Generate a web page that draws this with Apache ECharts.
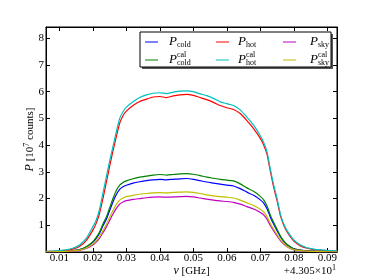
<!DOCTYPE html>
<html><head><meta charset="utf-8">
<script src="https://cdn.jsdelivr.net/npm/echarts@6/dist/echarts.min.js"></script>
<style>html,body{margin:0;padding:0;background:#fff}#c{width:374px;height:280px}</style>
</head><body><div id="c"></div><script>
// frequency offset (GHz, + 43.05)
const nu = [0.006,0.008,0.010,0.012,0.014,0.016,0.018,0.020,0.021,0.022,0.023,0.024,0.025,0.026,0.027,0.028,0.029,0.030,0.032,0.034,0.036,0.038,0.040,0.042,0.044,0.046,0.048,0.050,0.052,0.054,0.056,0.058,0.060,0.062,0.064,0.066,0.068,0.070,0.071,0.072,0.073,0.074,0.075,0.076,0.077,0.078,0.080,0.082,0.084,0.086,0.088,0.090,0.093];
const pCold = [0.01,0.01,0.02,0.03,0.05,0.09,0.19,0.36,0.51,0.70,0.98,1.22,1.55,1.87,2.15,2.34,2.44,2.50,2.58,2.63,2.67,2.70,2.72,2.70,2.72,2.74,2.75,2.72,2.67,2.62,2.58,2.54,2.50,2.47,2.37,2.24,2.12,1.95,1.83,1.62,1.30,1.04,0.80,0.57,0.40,0.27,0.12,0.07,0.04,0.03,0.02,0.02,0.01];
const pColdCal = [0.01,0.01,0.02,0.03,0.05,0.09,0.20,0.39,0.55,0.75,1.05,1.30,1.65,2.00,2.30,2.50,2.60,2.66,2.74,2.80,2.84,2.88,2.90,2.88,2.90,2.92,2.93,2.91,2.86,2.80,2.76,2.72,2.69,2.66,2.55,2.40,2.27,2.08,1.95,1.72,1.38,1.10,0.85,0.60,0.42,0.28,0.12,0.07,0.04,0.03,0.02,0.02,0.01];
const pHot = [0.02,0.02,0.04,0.06,0.11,0.21,0.43,0.82,1.08,1.45,2.00,2.60,3.20,3.78,4.32,4.82,5.10,5.27,5.48,5.63,5.72,5.80,5.82,5.78,5.84,5.88,5.90,5.86,5.78,5.70,5.60,5.48,5.40,5.33,5.18,4.92,4.62,4.25,4.00,3.65,3.02,2.42,1.92,1.36,1.00,0.75,0.41,0.23,0.14,0.09,0.07,0.05,0.03];
const pHotCal = [0.02,0.03,0.05,0.08,0.14,0.26,0.51,0.95,1.20,1.60,2.20,2.80,3.40,3.94,4.50,5.00,5.25,5.42,5.62,5.78,5.88,5.94,5.96,5.93,5.98,6.02,6.03,6.00,5.92,5.85,5.75,5.62,5.55,5.48,5.32,5.05,4.75,4.35,4.10,3.75,3.10,2.50,2.00,1.42,1.05,0.80,0.45,0.26,0.16,0.11,0.08,0.06,0.04];
const pSky = [0.01,0.01,0.01,0.02,0.035,0.06,0.13,0.26,0.37,0.52,0.72,0.93,1.18,1.42,1.63,1.79,1.87,1.92,1.97,2.00,2.03,2.05,2.06,2.05,2.06,2.07,2.08,2.06,2.02,1.98,1.94,1.91,1.89,1.86,1.79,1.70,1.61,1.48,1.39,1.23,0.99,0.79,0.60,0.43,0.30,0.20,0.08,0.05,0.03,0.02,0.015,0.01,0.01];
const pSkyCal = [0.01,0.01,0.015,0.02,0.04,0.07,0.15,0.30,0.42,0.58,0.80,1.02,1.30,1.55,1.78,1.94,2.02,2.07,2.12,2.16,2.19,2.21,2.22,2.21,2.23,2.24,2.25,2.23,2.19,2.14,2.10,2.07,2.05,2.02,1.94,1.84,1.74,1.60,1.50,1.33,1.07,0.85,0.65,0.46,0.32,0.21,0.09,0.05,0.03,0.02,0.015,0.01,0.01];
const xTicks = [0.01,0.02,0.03,0.04,0.05,0.06,0.07,0.08,0.09];
const yTicks = [1,2,3,4,5,6,7,8];

const FONT = 'Liberation Serif';
const seriesDefs = [
  {name:'P_cold', sub:'cold', sup:'', color:'#0000ff', data:pCold},
  {name:'P_cold^cal', sub:'cold', sup:'cal', color:'#008000', data:pColdCal},
  {name:'P_hot', sub:'hot', sup:'', color:'#ff0000', data:pHot},
  {name:'P_hot^cal', sub:'hot', sup:'cal', color:'#00bfbf', data:pHotCal},
  {name:'P_sky', sub:'sky', sup:'', color:'#bf00bf', data:pSky},
  {name:'P_sky^cal', sub:'sky', sup:'cal', color:'#bfbf00', data:pSkyCal}
];

const chart = echarts.init(document.getElementById('c'), null, {renderer:'canvas'});

const axisCommon = {
  type:'value',
  axisLine:{show:true, onZero:false, lineStyle:{color:'#000', width:1}},
  splitLine:{show:false},
};

// legend drawn as graphic (3 columns x 2 rows)
const lg = [];
const boxL = 140, boxT = 32, boxW = 191, boxH = 35;
lg.push({type:'rect', shape:{x:boxL+2, y:boxT+2, width:boxW, height:boxH}, style:{fill:'#555'}, z:100});
lg.push({type:'rect', shape:{x:boxL, y:boxT, width:boxW, height:boxH}, style:{fill:'#fff', stroke:'#000', lineWidth:1}, z:101});
const colLine = [145, 216, 283];
const colText = [169, 238, 310];
const rowY = [42, 60];
seriesDefs.forEach((s, i) => {
  const col = Math.floor(i/2), row = i%2;
  const y = rowY[row];
  lg.push({type:'line', shape:{x1:colLine[col], y1:y, x2:colLine[col]+13, y2:y}, style:{stroke:s.color, lineWidth:1}, z:102});
  lg.push({type:'text', x:colText[col], y:y, style:{text:'P', font:'italic 13px '+FONT, fill:'#000', textVerticalAlign:'middle'}, z:102});
  lg.push({type:'text', x:colText[col]+8, y:y+3, style:{text:s.sub, font:'8px '+FONT, fill:'#000', textVerticalAlign:'middle'}, z:102});
  if (s.sup) lg.push({type:'text', x:colText[col]+8, y:y-5, style:{text:s.sup, font:'8px '+FONT, fill:'#000', textVerticalAlign:'middle'}, z:102});
});
// offset text
lg.push({type:'text', right:38, top:264, style:{rich:{a:{font:'11px '+FONT, fill:'#000'}, s:{font:'8px '+FONT, fill:'#000', padding:[0,0,7,0]}}, text:'{a|+4.305×10}{s|1}', fill:'#000'}, z:102});

chart.setOption({
  animation:false,
  backgroundColor:'#fff',
  grid:{left:46, right:37, top:27, bottom:28, outerBoundsMode:'none', containLabel:false, show:true, borderColor:'#000', borderWidth:1, backgroundColor:'transparent'},
  xAxis:[
    Object.assign({}, axisCommon, {
      min:0.006, max:0.0929, position:'bottom',
      axisTick:{show:true, inside:true, length:4, customValues:xTicks, lineStyle:{color:'#000'}},
      axisLabel:{show:true, customValues:xTicks, color:'#000', fontFamily:FONT, fontSize:11, margin:1, formatter:v=>v.toFixed(2)},
      name:'{i|ν} [GHz]', nameLocation:'middle', nameGap:13, nameMoveOverlap:false,
      nameTextStyle:{color:'#000', fontFamily:FONT, fontSize:11, rich:{i:{fontStyle:'italic', fontFamily:FONT, fontSize:12, color:'#000'}}}
    }),
    Object.assign({}, axisCommon, {
      min:0.006, max:0.0929, position:'top',
      axisTick:{show:true, inside:true, length:4, customValues:xTicks, lineStyle:{color:'#000'}},
      axisLabel:{show:false}
    })
  ],
  yAxis:[
    Object.assign({}, axisCommon, {
      min:0, max:8.42, position:'left',
      axisTick:{show:true, inside:true, length:4, customValues:yTicks, lineStyle:{color:'#000'}},
      axisLabel:{show:true, customValues:yTicks, color:'#000', fontFamily:FONT, fontSize:11, margin:2, formatter:v=>String(v)},
      name:'{i|P} [10{s|7} counts]', nameLocation:'middle', nameGap:9, nameRotate:90, nameMoveOverlap:false,
      nameTextStyle:{color:'#000', fontFamily:FONT, fontSize:11, rich:{i:{fontStyle:'italic', fontFamily:FONT, fontSize:12, color:'#000'}, s:{fontFamily:FONT, fontSize:8, color:'#000', padding:[0,0,6,0]}}}
    }),
    Object.assign({}, axisCommon, {
      min:0, max:8.42, position:'right',
      axisTick:{show:true, inside:true, length:4, customValues:yTicks, lineStyle:{color:'#000'}},
      axisLabel:{show:false}
    })
  ],
  series: seriesDefs.map(s => ({
    name:s.name, type:'line', xAxisIndex:0, yAxisIndex:0,
    showSymbol:false, symbol:'none', smooth:0.2,
    lineStyle:{color:s.color, width:1.2}, itemStyle:{color:s.color},
    data: nu.map((x, k) => [x, s.data[k]])
  })),
  graphic: lg
});
</script></body></html>
